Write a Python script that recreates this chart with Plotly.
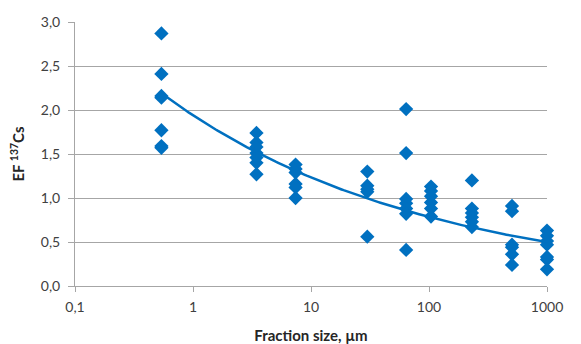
import numpy as np
import plotly.graph_objects as go

# Fraction sizes (µm) and EF 137Cs values
fraction_sizes = [0.54, 3.45, 7.4, 30, 64, 104, 231, 505, 1000]
ef_values = [
    [2.87, 2.41, 2.16, 2.14, 1.77, 1.59, 1.57],
    [1.74, 1.63, 1.58, 1.51, 1.46, 1.40, 1.27],
    [1.38, 1.33, 1.29, 1.16, 1.12, 1.00],
    [1.30, 1.14, 1.10, 1.07, 0.56],
    [2.01, 1.51, 0.99, 0.94, 0.88, 0.82, 0.41],
    [1.13, 1.08, 1.02, 0.95, 0.88, 0.79],
    [1.20, 0.88, 0.83, 0.78, 0.73, 0.67],
    [0.91, 0.85, 0.47, 0.44, 0.36, 0.24],
    [0.63, 0.57, 0.51, 0.47, 0.33, 0.30, 0.19],
]
y_ticks = [0.0, 0.5, 1.0, 1.5, 2.0, 2.5, 3.0]
y_tick_labels = ["0,0", "0,5", "1,0", "1,5", "2,0", "2,5", "3,0"]
x_ticks = [0.1, 1, 10, 100, 1000]
x_tick_labels = ["0,1", "1", "10", "100", "1000"]

xs, ys = [], []
for xv, vals in zip(fraction_sizes, ef_values):
    for v in vals:
        xs.append(xv)
        ys.append(v)
xs = np.array(xs)
ys = np.array(ys)

# power trendline (least squares in log-log space, like a spreadsheet power trend)
b, ln_a = np.polyfit(np.log(xs), np.log(ys), 1)
xt = np.logspace(np.log10(min(fraction_sizes)), np.log10(max(fraction_sizes)), 200)
yt = np.exp(ln_a) * xt ** b

blue = "#0070C0"
fig = go.Figure()
fig.add_trace(go.Scatter(x=xs, y=ys, mode="markers",
                         marker=dict(symbol="diamond", size=11, color=blue,
                                     line=dict(width=0)),
                         showlegend=False, hoverinfo="x+y", cliponaxis=False))
fig.add_trace(go.Scatter(x=xt, y=yt, mode="lines",
                         line=dict(color=blue, width=2.5),
                         showlegend=False, hoverinfo="skip", cliponaxis=False))

font_family = "Lato, 'Open Sans', sans-serif"
fig.update_layout(
    width=573, height=336,
    margin=dict(l=67, r=34, t=14, b=58),
    paper_bgcolor="white", plot_bgcolor="white",
    font=dict(family=font_family, size=13, color="#595959"),
    xaxis=dict(
        type="log", range=[-1, 3], automargin=False,
        tickvals=x_ticks, ticktext=x_tick_labels,
        showgrid=False, showline=True, linecolor="#a6a6a6", linewidth=1,
        ticks="outside", ticklen=5, tickcolor="#a6a6a6",
        ticklabelstandoff=3,
        tickfont=dict(size=14, color="#404040"),
        title=dict(text="Fraction size, µm",
                   font=dict(size=15, color="#262626", family=font_family, weight="bold"),
                   standoff=17),
        zeroline=False,
    ),
    yaxis=dict(
        range=[0, 3], tickvals=y_ticks, ticktext=y_tick_labels, automargin=False,
        showgrid=True, gridcolor="#a6a6a6", gridwidth=1,
        showline=True, linecolor="#a6a6a6", linewidth=1,
        ticks="outside", ticklen=6, tickcolor="#a6a6a6",
        ticklabelstandoff=5,
        tickfont=dict(size=14, color="#404040"),
        title=dict(text="EF <sup>137</sup>Cs",
                   font=dict(size=15, color="#262626", family=font_family, weight="bold"),
                   standoff=12),
        zeroline=False,
    ),
)

fig.write_html("out.html")
